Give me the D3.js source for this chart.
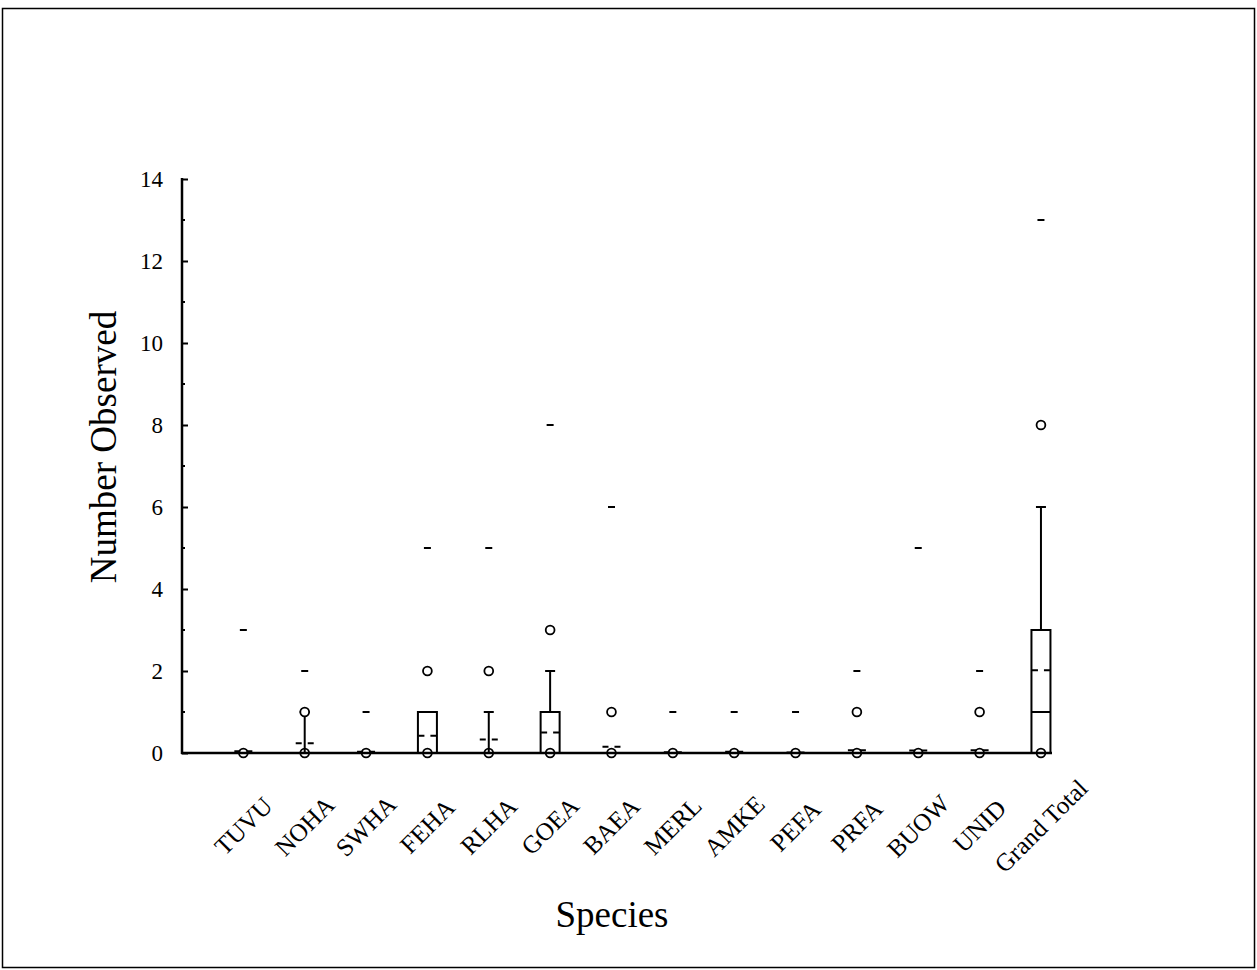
<!DOCTYPE html>
<html>
<head>
<meta charset="utf-8">
<script src="https://cdn.jsdelivr.net/npm/d3@7"></script>
<style>
  body { margin: 0; background: #fff; }
  svg { display: block; }
  text { font-family: "Liberation Serif", "Times New Roman", serif; fill: #000; }
</style>
</head>
<body>
<svg id="chart" width="1257" height="970"></svg>
<script>
const categories = ["TUVU","NOHA","SWHA","FEHA","RLHA","GOEA","BAEA","MERL","AMKE","PEFA","PRFA","BUOW","UNID","Grand Total"];
const p5     = [0,0,0,0,0,0,0,0,0,0,0,0,0,0];
const p10    = [0,0,0,0,0,0,0,0,0,0,0,0,0,0];
const q1     = [0,0,0,0,0,0,0,0,0,0,0,0,0,0];
const median = [0,0,0,0,0,0,0,0,0,0,0,0,0,1];
const q3     = [0,0,0,1,0,1,0,0,0,0,0,0,0,3];
const p90    = [0,1,0,1,1,2,0,0,0,0,0,0,0,6];
const p95    = [0,1,0,2,2,3,1,0,0,0,1,0,1,8];
const maxVal = [3,2,1,5,5,8,6,1,1,1,2,5,2,13];
const mean   = [0.04,0.24,0.03,0.42,0.33,0.5,0.15,0.02,0.03,0.01,0.07,0.06,0.07,2.02];
const yTicks = [0,2,4,6,8,10,12,14];
const yMinor = [1,3,5,7,9,11,13];

const data = categories.map((c,i)=>({c, i:i+1, p5:p5[i], p10:p10[i], q1:q1[i], med:median[i], q3:q3[i], p90:p90[i], p95:p95[i], max:maxVal[i], mean:mean[i]}));

const svg = d3.select("#chart");
// outer frame
svg.append("rect").attr("x",2.5).attr("y",8.5).attr("width",1252).attr("height",959)
  .attr("fill","none").attr("stroke","#000").attr("stroke-width",1.5);

const x = d3.scaleLinear().domain([0, 14.18]).range([182, 1052]);
const y = d3.scaleLinear().domain([0, 14]).range([753, 179]);

const g = svg.append("g");

// y axis (ticks inward)
const yAxis = g.append("g").attr("transform","translate(182,0)")
  .call(d3.axisLeft(y).tickValues(yTicks).tickSize(-6).tickPadding(19).tickFormat(d3.format("d")));
yAxis.select(".domain").remove();
yAxis.selectAll(".tick line").attr("stroke","#000").attr("stroke-width",2);
yAxis.selectAll(".tick text").style("font-size","23px").style("font-family","Liberation Serif");
g.append("g").selectAll("line").data(yMinor).join("line")
  .attr("x1",182).attr("x2",185).attr("y1",d=>y(d)).attr("y2",d=>y(d))
  .attr("stroke","#000").attr("stroke-width",2);
g.append("line").attr("x1",182).attr("x2",182).attr("y1",y(14)-1).attr("y2",y(0)+1)
  .attr("stroke","#000").attr("stroke-width",2.5);
// x axis line
g.append("line").attr("x1",181).attr("x2",x(14.18)).attr("y1",y(0)).attr("y2",y(0))
  .attr("stroke","#000").attr("stroke-width",2.5);

const bw = 19, cw = 10, dw = 7, r = 4.4;
const grp = g.append("g").selectAll("g").data(data).join("g");

// whiskers
grp.append("line").attr("x1",d=>x(d.i)).attr("x2",d=>x(d.i)).attr("y1",d=>y(d.q3)).attr("y2",d=>y(d.p90))
  .attr("stroke","#000").attr("stroke-width",2);
grp.append("line").attr("x1",d=>x(d.i)-cw/2).attr("x2",d=>x(d.i)+cw/2).attr("y1",d=>y(d.p90)).attr("y2",d=>y(d.p90))
  .attr("stroke","#000").attr("stroke-width",2);
grp.append("line").attr("x1",d=>x(d.i)).attr("x2",d=>x(d.i)).attr("y1",d=>y(d.q1)).attr("y2",d=>y(d.p10))
  .attr("stroke","#000").attr("stroke-width",2);
// boxes
grp.filter(d=>d.q3>d.q1).append("rect")
  .attr("x",d=>x(d.i)-bw/2).attr("width",bw).attr("y",d=>y(d.q3)).attr("height",d=>y(d.q1)-y(d.q3))
  .attr("fill","none").attr("stroke","#000").attr("stroke-width",2);
// median
grp.filter(d=>d.med>0).append("line").attr("x1",d=>x(d.i)-bw/2).attr("x2",d=>x(d.i)+bw/2)
  .attr("y1",d=>y(d.med)).attr("y2",d=>y(d.med)).attr("stroke","#000").attr("stroke-width",2);
// mean (dashed)
grp.append("line").attr("x1",d=>x(d.i)-bw/2+0.5).attr("x2",d=>x(d.i)+bw/2-0.5)
  .attr("y1",d=>y(d.mean)).attr("y2",d=>y(d.mean)).attr("stroke","#000").attr("stroke-width",2)
  .attr("stroke-dasharray","6,6");
// max dash
grp.append("line").attr("x1",d=>x(d.i)-dw/2).attr("x2",d=>x(d.i)+dw/2)
  .attr("y1",d=>y(d.max)).attr("y2",d=>y(d.max)).attr("stroke","#000").attr("stroke-width",2);
// percentile circles
grp.append("circle").attr("cx",d=>x(d.i)).attr("cy",d=>y(d.p5)).attr("r",r)
  .attr("fill","none").attr("stroke","#000").attr("stroke-width",1.8);
grp.filter(d=>d.p95!==d.p5).append("circle").attr("cx",d=>x(d.i)).attr("cy",d=>y(d.p95)).attr("r",r)
  .attr("fill","#fff").attr("stroke","#000").attr("stroke-width",1.8);

// x labels
g.append("g").selectAll("text").data(data).join("text")
  .attr("transform",d=>`translate(${x(d.i)},826) rotate(-45)`)
  .attr("text-anchor","middle").attr("dominant-baseline","central")
  .style("font-size","25px").text(d=>d.c);

// titles
svg.append("text").attr("transform","translate(116,447) rotate(-90)")
  .attr("text-anchor","middle").style("font-size","37px").text("Number Observed");
svg.append("text").attr("x",612).attr("y",927).attr("text-anchor","middle")
  .style("font-size","37px").text("Species");
</script>
</body>
</html>
